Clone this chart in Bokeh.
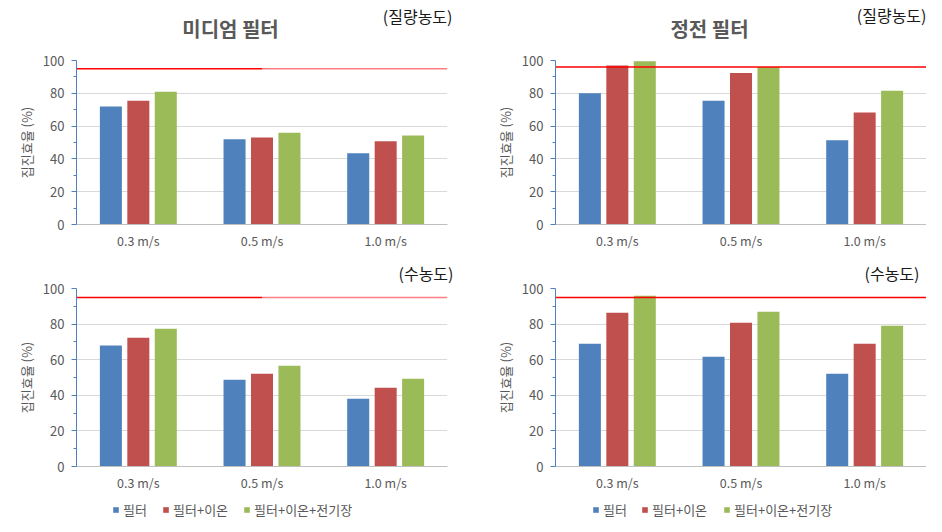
from bokeh.plotting import figure
from bokeh.layouts import column, row
from bokeh.models import (ColumnDataSource, Range1d, FactorRange, Legend, LegendItem,
                          FixedTicker, Title)
from bokeh.core.properties import value
from bokeh.transform import dodge
from bokeh.embed import file_html
from bokeh.resources import INLINE

categories = ["0.3 m/s", "0.5 m/s", "1.0 m/s"]
series_names = ["필터", "필터+이온", "필터+이온+전기장"]
colors = ["#4F81BD", "#C0504D", "#9BBB59"]

panel_titles = ["미디엄 필터", "정전 필터"]
row_notes = ["(질량농도)", "(수농도)"]

# 미디엄 필터 (질량농도)
medium_mass_filter = [72, 52, 43.5]
medium_mass_ion = [75.5, 53, 50.7]
medium_mass_field = [81, 56, 54.3]
# 정전 필터 (질량농도)
electro_mass_filter = [80, 75.5, 51.4]
electro_mass_ion = [97, 92.4, 68.3]
electro_mass_field = [99.5, 96, 81.5]
# 미디엄 필터 (수농도)
medium_num_filter = [68, 48.8, 38.1]
medium_num_ion = [72.3, 52.1, 44.3]
medium_num_field = [77.4, 56.6, 49.3]
# 정전 필터 (수농도)
electro_num_filter = [69, 61.7, 52.1]
electro_num_ion = [86.4, 80.7, 69]
electro_num_field = [95.9, 86.9, 79.1]

thresholds = [95, 96, 95, 95]
y_ticks = [0, 20, 40, 60, 80, 100]

FONT = "Noto Sans CJK KR"
GRAY = "#595959"
NOTE = "#1a1a1a"
TOTAL_W = 926


def bare_figure(height):
    h = figure(width=TOTAL_W, height=height, x_range=Range1d(0, TOTAL_W),
               y_range=Range1d(height, 0), output_backend="svg",
               toolbar_location=None, x_axis_location=None, y_axis_location=None,
               min_border=0, min_border_left=0, min_border_right=0,
               min_border_top=0, min_border_bottom=0)
    h.outline_line_color = None
    h.xgrid.visible = False
    h.ygrid.visible = False
    return h


def header(height, texts):
    h = bare_figure(height)
    for (tx, ty, txt, size, bold, col, align) in texts:
        h.text(x=[tx], y=[ty], text=[txt], text_font=value(FONT),
               text_font_size=size, text_font_style="bold" if bold else "normal",
               text_color=col, text_align=align, text_baseline="middle")
    return h


def footer(height, legend_xs, legend_y):
    f = bare_figure(height)
    # legend swatches only: zero-height bars outside the visible range
    rends = [f.vbar(x=[-1000], top=[0], width=1, fill_color=c, line_color=None)
             for c in colors]
    for group in legend_xs:
        for lx, s, r in zip(group, series_names, rends):
            lg = Legend(items=[LegendItem(label=s, renderers=[r])],
                        orientation="horizontal", location=(lx, legend_y),
                        glyph_width=7, glyph_height=7, label_text_font=FONT,
                        label_text_font_size="13px", label_text_color=GRAY,
                        label_standoff=4, spacing=0, padding=0, margin=0,
                        border_line_color=None, background_fill_alpha=0,
                        label_height=12)
            f.add_layout(lg)
    return f


def make_panel(vals, threshold, width, height, bl, br, bt, bb, two_tone=False,
               note=None, note_offset=0):
    p = figure(width=width, height=height, x_range=FactorRange(*categories),
               y_range=Range1d(0, 100), output_backend="svg",
               toolbar_location=None, min_border_left=bl, min_border_right=br,
               min_border_top=bt, min_border_bottom=bb)
    p.outline_line_color = None
    src = ColumnDataSource(dict(cat=categories, a=vals[0], b=vals[1], c=vals[2]))
    offs = [-0.222, 0.0, 0.222]
    for key, off, col in zip(["a", "b", "c"], offs, colors):
        p.vbar(x=dodge("cat", off, range=p.x_range), top=key, width=0.178,
               source=src, fill_color=col, line_color=None)
    n = len(categories)
    if two_tone:
        p.segment(x0=[0], x1=[n / 2], y0=[threshold], y1=[threshold],
                  line_color="#FF0000", line_width=1.5)
        p.segment(x0=[n / 2], x1=[n], y0=[threshold], y1=[threshold],
                  line_color="#FF7C80", line_width=1.5)
    else:
        p.segment(x0=[0], x1=[n], y0=[threshold], y1=[threshold],
                  line_color="#FF0000", line_width=1.5)

    ya = p.yaxis[0]
    ya.ticker = FixedTicker(ticks=y_ticks, minor_ticks=list(range(10, 100, 20)))
    ya.axis_line_color = "#4F81BD"
    ya.major_tick_line_color = "#4F81BD"
    ya.minor_tick_line_color = "#4F81BD"
    ya.major_tick_in = 0
    ya.major_tick_out = 5
    ya.minor_tick_in = 0
    ya.minor_tick_out = 3
    ya.major_label_text_font = FONT
    ya.major_label_text_font_size = "13px"
    ya.major_label_text_color = GRAY
    ya.major_label_standoff = 7
    ya.axis_label = "집진효율 (%)"
    ya.axis_label_text_font = FONT
    ya.axis_label_text_font_size = "13px"
    ya.axis_label_text_font_style = "normal"
    ya.axis_label_text_color = GRAY
    ya.axis_label_standoff = 4

    xa = p.xaxis[0]
    xa.axis_line_color = "#BFBFBF"
    xa.major_tick_line_color = None
    xa.minor_tick_line_color = None
    xa.major_tick_in = 0
    xa.major_tick_out = 0
    xa.major_label_text_font = FONT
    xa.major_label_text_font_size = "12.5px"
    xa.major_label_text_color = GRAY
    xa.major_label_standoff = 6

    p.xgrid.grid_line_color = None
    p.ygrid.grid_line_color = "#D9D9D9"
    p.ygrid.ticker = FixedTicker(ticks=y_ticks[1:])

    if note:
        p.add_layout(Title(text=note, align="right", offset=note_offset, standoff=8,
                           text_font=FONT, text_font_size="16px",
                           text_font_style="normal", text_color=NOTE), "above")
    return p


h1 = header(46, [
    (230, 28, panel_titles[0], "20px", True, GRAY, "center"),
    (709, 28, panel_titles[1], "20px", True, GRAY, "center"),
    (452, 15, row_notes[0], "16px", False, NOTE, "right"),
    (926, 14, row_notes[0], "16px", False, NOTE, "right"),
])

p1 = make_panel([medium_mass_filter, medium_mass_ion, medium_mass_field], thresholds[0],
                470, 206, 76, 23, 14, 26, two_tone=True)
p2 = make_panel([electro_mass_filter, electro_mass_ion, electro_mass_field], thresholds[1],
                456, 206, 85, 0, 14, 26)
p3 = make_panel([medium_num_filter, medium_num_ion, medium_num_field], thresholds[2],
                470, 242, 76, 23, 36, 28, two_tone=True, note=row_notes[1], note_offset=-6)
p4 = make_panel([electro_num_filter, electro_num_ion, electro_num_field], thresholds[3],
                456, 242, 85, 0, 36, 28, note=row_notes[1], note_offset=7)
f = footer(26, [[112, 162, 243], [592, 641, 723]], 1)

layout = column(h1, row(p1, p2), row(p3, p4), f, spacing=0)
open("out.html", "w").write(file_html(layout, INLINE))
